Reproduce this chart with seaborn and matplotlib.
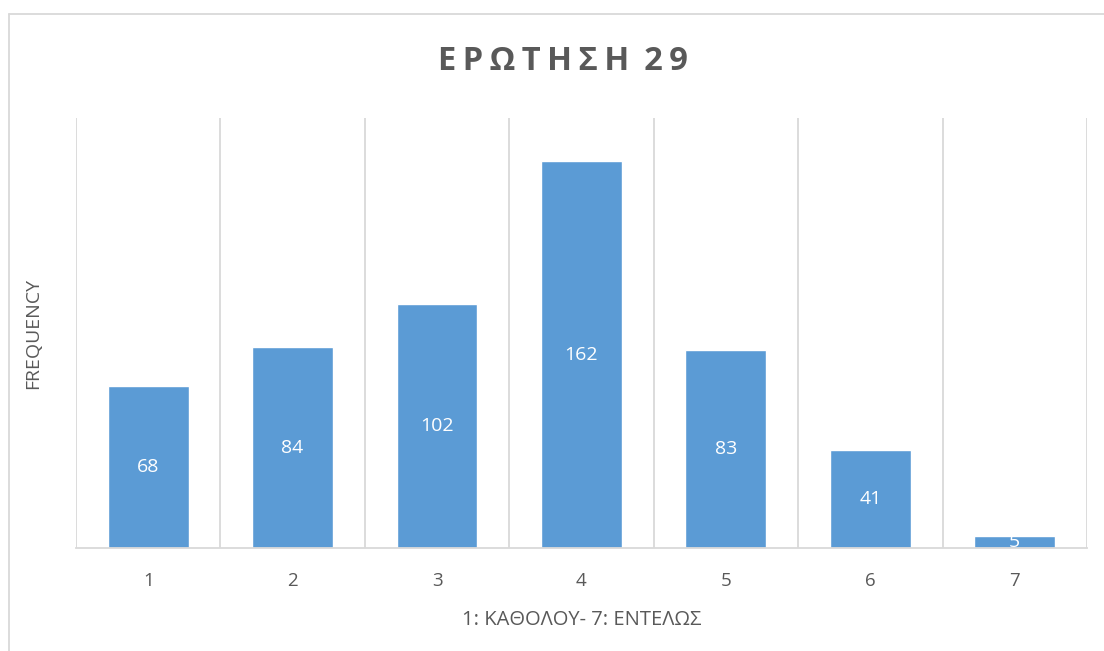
import matplotlib.pyplot as plt
import numpy as np
import pandas as pd
import seaborn as sns
from matplotlib.lines import Line2D

CATEGORIES = ["1", "2", "3", "4", "5", "6", "7"]
FREQUENCIES = [68, 84, 102, 162, 83, 41, 5]
TITLE = "ΕΡΩΤΗΣΗ 29"
X_LABEL = "1: ΚΑΘΟΛΟΥ- 7: ΕΝΤΕΛΩΣ"
Y_LABEL = "FREQUENCY"

BAR_COLOR = "#5B9BD5"
GRID_COLOR = "#D9D9D9"
TEXT_COLOR = "#595959"


def spaced(text: str) -> str:
    # Excel-style letter spacing for the title (thin spaces between letters)
    thin = "\u2009"
    return (" " + thin).join(thin.join(word) for word in text.split(" "))


def main() -> None:
    sns.set_theme(style="white")
    plt.rcParams["font.family"] = ["Open Sans", "DejaVu Sans"]

    df = pd.DataFrame({"answer": CATEGORIES, "frequency": FREQUENCIES})

    fig = plt.figure(figsize=(11.04, 6.51), dpi=100)
    ax = fig.add_axes([0.0688, 0.1582, 0.9158, 0.6605])

    sns.barplot(data=df, x="answer", y="frequency", color=BAR_COLOR,
                saturation=1, width=0.56, ax=ax)

    ax.set_xlim(-0.5, len(CATEGORIES) - 0.5)
    ax.set_ylim(0, 180)
    ax.set_yticks([])

    for x in np.arange(-0.5, len(CATEGORIES), 1.0):
        ax.axvline(x, color=GRID_COLOR, lw=1.3, zorder=0)

    for side in ["top", "right", "left"]:
        ax.spines[side].set_visible(False)
    ax.spines["bottom"].set_color(GRID_COLOR)
    ax.spines["bottom"].set_linewidth(1.3)

    ax.tick_params(axis="x", length=0, pad=17, labelsize=13.5, labelcolor=TEXT_COLOR)

    for container in ax.containers:
        ax.bar_label(container, label_type="center", color="white", fontsize=14)

    ax.set_xlabel(X_LABEL, fontsize=14.5, color=TEXT_COLOR, labelpad=15)
    ax.set_ylabel(Y_LABEL, fontsize=14, color=TEXT_COLOR, labelpad=24)

    fig.text(0.51, 0.905, spaced(TITLE), ha="center", va="center",
             fontsize=23.5, fontweight="bold", color=TEXT_COLOR)

    # chart area border (top and left edges visible in the crop)
    fig.add_artist(Line2D([9 / 1104, 1], [1 - 14 / 651] * 2, transform=fig.transFigure,
                          color=GRID_COLOR, lw=1.3))
    fig.add_artist(Line2D([9 / 1104] * 2, [0, 1 - 14 / 651], transform=fig.transFigure,
                          color=GRID_COLOR, lw=1.3))

    fig.savefig("out.png", dpi=100)
    plt.close(fig)


if __name__ == "__main__":
    main()
